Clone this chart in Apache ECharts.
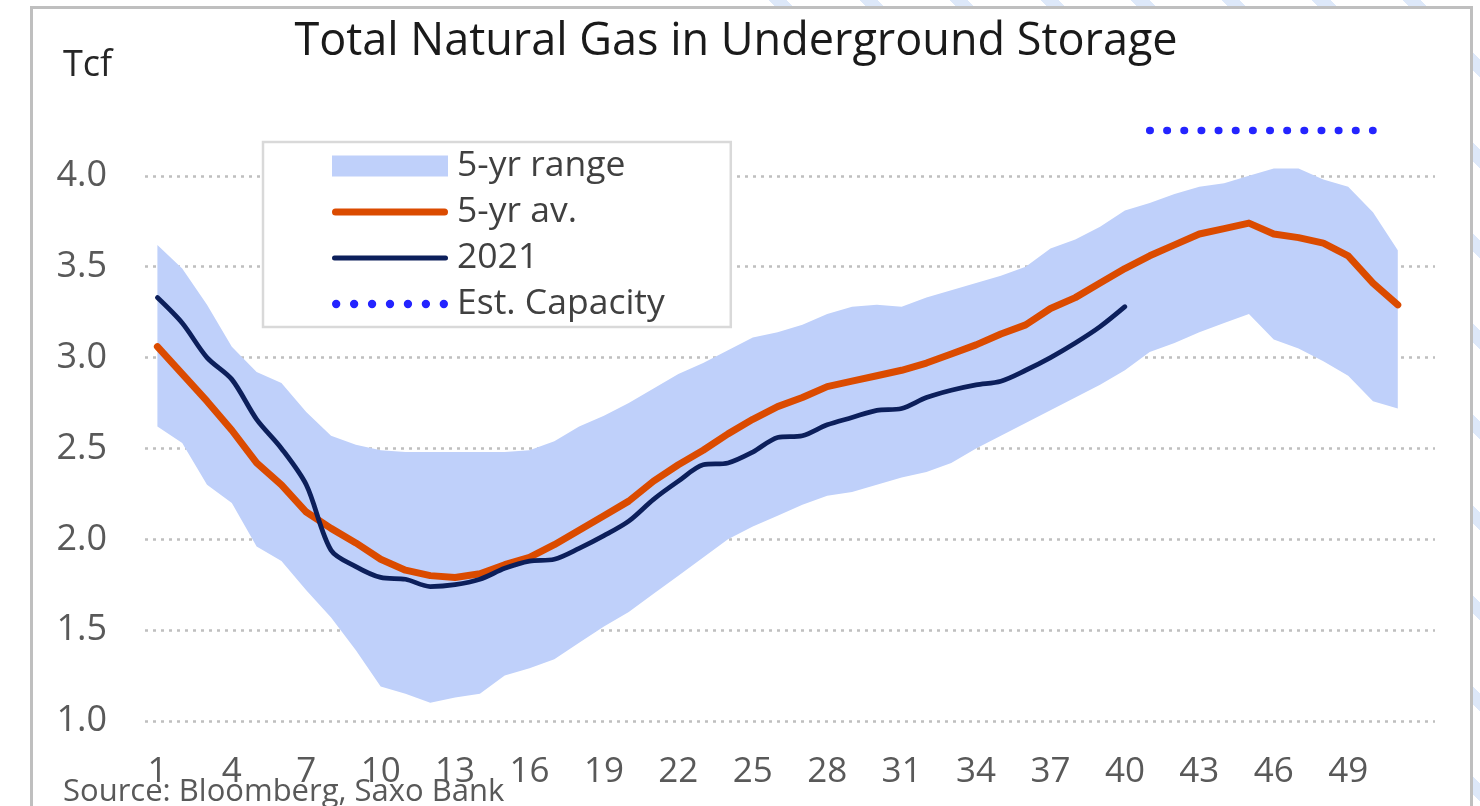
<!DOCTYPE html>
<html>
<head>
<meta charset="utf-8">
<script src="https://cdn.jsdelivr.net/npm/echarts@6/dist/echarts.min.js"></script>
<style>
html,body{margin:0;padding:0;background:#fff;overflow:hidden;}
#stripes{position:absolute;left:760px;top:0;width:720px;height:806px;
  background:repeating-linear-gradient(45deg,#dde8f9 0px,#dde8f9 13px,rgba(255,255,255,0) 13px,rgba(255,255,255,0) 64px);}
#frame{position:absolute;left:30px;top:6px;width:1437px;height:830px;border:3px solid #bfbfbf;background:#fff;}
#chart{position:absolute;left:0;top:0;width:1480px;height:806px;}
</style>
</head>
<body>
<div id="stripes"></div>
<div id="frame"></div>
<div id="chart"></div>
<script>
// ---- Data (Tcf, by week of year) ----
const weeks = ['1','2','3','4','5','6','7','8','9','10','11','12','13','14','15','16','17','18','19','20',
  '21','22','23','24','25','26','27','28','29','30','31','32','33','34','35','36','37','38','39','40',
  '41','42','43','44','45','46','47','48','49','50','51','52'];

const xTickLabels = ['1','4','7','10','13','16','19','22','25','28','31','34','37','40','43','46','49'];
const yTickLabels = [1.0, 1.5, 2.0, 2.5, 3.0, 3.5, 4.0];

const rangeLow = [2.62,2.53,2.30,2.20,1.96,1.88,1.72,1.57,1.39,1.19,1.15,1.10,1.13,1.15,1.25,1.29,1.34,1.43,1.52,1.60,
  1.70,1.80,1.90,2.00,2.07,2.13,2.19,2.24,2.26,2.30,2.34,2.37,2.42,2.50,2.57,2.64,2.71,2.78,2.85,2.93,
  3.03,3.08,3.14,3.19,3.24,3.10,3.05,2.98,2.90,2.76,2.72,null];

const rangeHigh = [3.62,3.49,3.29,3.06,2.92,2.86,2.70,2.57,2.52,2.49,2.48,2.48,2.48,2.48,2.48,2.49,2.54,2.62,2.68,2.75,
  2.83,2.91,2.97,3.04,3.11,3.14,3.18,3.24,3.28,3.29,3.28,3.33,3.37,3.41,3.45,3.50,3.60,3.65,3.72,3.81,
  3.85,3.90,3.94,3.96,4.00,4.04,4.04,3.98,3.94,3.80,3.59,null];

const avg5yr = [3.06,2.91,2.76,2.60,2.42,2.30,2.15,2.06,1.98,1.89,1.83,1.80,1.79,1.81,1.86,1.90,1.97,2.05,2.13,2.21,
  2.32,2.41,2.49,2.58,2.66,2.73,2.78,2.84,2.87,2.90,2.93,2.97,3.02,3.07,3.13,3.18,3.27,3.33,3.41,3.49,
  3.56,3.62,3.68,3.71,3.74,3.68,3.66,3.63,3.56,3.41,3.29,null];

const y2021 = [3.33,3.19,3.00,2.88,2.66,2.50,2.30,1.94,1.85,1.79,1.78,1.74,1.75,1.78,1.84,1.88,1.89,1.95,2.02,2.10,
  2.22,2.32,2.41,2.42,2.48,2.56,2.57,2.63,2.67,2.71,2.72,2.78,2.82,2.85,2.87,2.93,3.00,3.08,3.17,3.28,
  null,null,null,null,null,null,null,null,null,null,null,null];

const capacity = [null,null,null,null,null,null,null,null,null,null,null,null,null,null,null,null,null,null,null,null,
  null,null,null,null,null,null,null,null,null,null,null,null,null,null,null,null,null,null,null,null,
  4.25,4.25,4.25,4.25,4.25,4.25,4.25,4.25,4.25,4.25,null,null];

// band thickness for stacking (library needs base + height)
const rangeSpan = rangeHigh.map((h, i) => (h == null || rangeLow[i] == null) ? null : +(h - rangeLow[i]).toFixed(3));

const C_BAND = '#bfd0fa', C_AVG = '#db4b00', C_2021 = '#0c1f5b', C_CAP = '#2424ff';
const FONT = 'Open Sans';

const pillOrange = 'path://M3.5,0H112.5A3.5,3.5,0,0,1,112.5,7H3.5A3.5,3.5,0,0,1,3.5,0Z';
const pillNavy = 'path://M2.5,0H113.5A2.5,2.5,0,0,1,113.5,5H2.5A2.5,2.5,0,0,1,2.5,0Z';
let dots = 'path://';
[4, 21.2, 38.4, 55.6, 72.8, 90, 107.2].forEach(cx => {
  dots += 'M' + (cx - 4) + ',4A4,4,0,1,0,' + (cx + 4) + ',4A4,4,0,1,0,' + (cx - 4) + ',4Z';
});

const chart = echarts.init(document.getElementById('chart'), null, {renderer: 'canvas'});
const option = {
  backgroundColor: 'transparent',
  animation: false,
  textStyle: {fontFamily: FONT},
  grid: {left: 145, right: 45, top: 85, bottom: 85},
  xAxis: {
    type: 'category',
    data: weeks,
    boundaryGap: true,
    axisLine: {show: false},
    axisTick: {show: false},
    splitLine: {show: false},
    axisLabel: {
      interval: (i, v) => xTickLabels.indexOf(v) >= 0,
      margin: 34,
      fontSize: 35,
      fontFamily: FONT,
      color: '#595959'
    }
  },
  yAxis: {
    type: 'value',
    min: 1,
    max: 4.5,
    interval: 0.5,
    axisLine: {show: false},
    axisTick: {show: false},
    axisLabel: {
      margin: 38,
      fontSize: 36,
      fontFamily: FONT,
      color: '#595959',
      showMaxLabel: false,
      formatter: v => (yTickLabels.indexOf(v) >= 0 ? v.toFixed(1) : '')
    },
    splitLine: {
      show: true,
      showMaxLine: false,
      lineStyle: {color: '#bfbfbf', width: 2.5, type: [3, 5]}
    }
  },
  legend: {
    orient: 'vertical',
    left: 263,
    top: 142,
    padding: [6, 66, 5, 69],
    itemGap: 10,
    itemWidth: 116,
    itemHeight: 21,
    backgroundColor: '#ffffff',
    borderColor: '#d9d9d9',
    borderWidth: 2.5,
    selectedMode: false,
    itemStyle: {borderWidth: 0},
    textStyle: {fontSize: 35.5, fontFamily: FONT, color: '#404040', padding: [0, 0, 0, 4]},
    data: [
      {name: '5-yr range', icon: 'rect'},
      {name: '5-yr av.', icon: pillOrange},
      {name: '2021', icon: pillNavy},
      {name: 'Est. Capacity', icon: dots}
    ]
  },
  graphic: [
    {type: 'text', x: 736, y: 42, z: 10,
     style: {text: 'Total Natural Gas in Underground Storage', font: '45px "Open Sans"', fill: '#1a1a1a',
             align: 'center', verticalAlign: 'middle', textAlign: 'center', textVerticalAlign: 'middle'}},
    {type: 'text', x: 63, y: 66, z: 10,
     style: {text: 'Tcf', font: '36px "Open Sans"', fill: '#262626',
             align: 'left', verticalAlign: 'middle', textAlign: 'left', textVerticalAlign: 'middle'}},
    {type: 'text', x: 63, y: 792, z: 10,
     style: {text: 'Source: Bloomberg, Saxo Bank', font: '31px "Open Sans"', fill: '#595959',
             align: 'left', verticalAlign: 'middle', textAlign: 'left', textVerticalAlign: 'middle'}}
  ],
  series: [
    {
      name: 'range-base', type: 'line', stack: 'range', data: rangeLow,
      symbol: 'none', silent: true, color: C_BAND,
      lineStyle: {width: 0, color: C_BAND}
    },
    {
      name: '5-yr range', type: 'line', stack: 'range', data: rangeSpan,
      symbol: 'none', silent: true, color: C_BAND,
      lineStyle: {width: 0, color: C_BAND},
      areaStyle: {color: C_BAND, opacity: 1}
    },
    {
      name: '5-yr av.', type: 'line', data: avg5yr, symbol: 'none', color: C_AVG,
      lineStyle: {width: 7, color: C_AVG, cap: 'round', join: 'round'}
    },
    {
      name: '2021', type: 'line', data: y2021, symbol: 'none', color: C_2021, smooth: 0.3,
      lineStyle: {width: 4.8, color: C_2021, cap: 'round', join: 'round'}
    },
    {
      name: 'Est. Capacity', type: 'line', data: capacity, symbol: 'none', color: C_CAP,
      lineStyle: {width: 7.5, color: C_CAP, type: [0.5, 16.65], cap: 'round'}
    }
  ]
};
chart.setOption(option);
</script>
</body>
</html>
